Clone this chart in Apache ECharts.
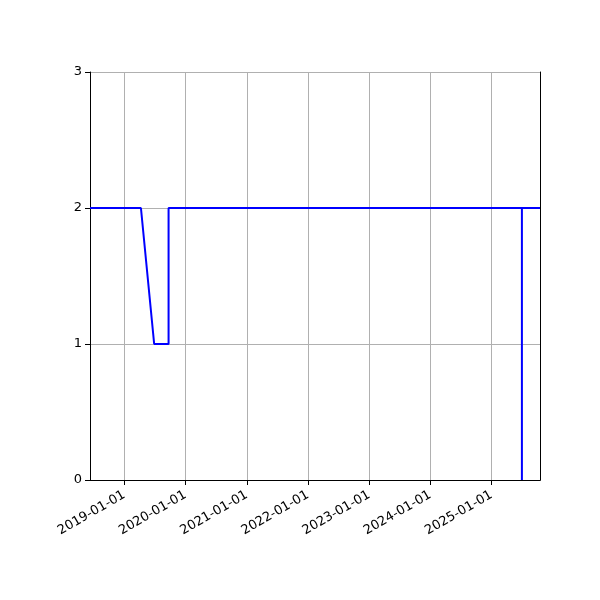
<!DOCTYPE html>
<html>
<head>
<meta charset="utf-8">
<script src="https://cdn.jsdelivr.net/npm/echarts@6/dist/echarts.min.js"></script>
<style>
    html, body { margin: 0; padding: 0; background: #fff; }
    #chart { width: 600px; height: 600px; }
</style>
</head>
<body>
<div id="chart"></div>
<script>
    // dates and values
    var dates = ['2018-06-10', '2019-04-10', '2019-06-28', '2019-09-22', '2019-09-22',
                 '2025-07-01', '2025-07-01', '2025-07-01', '2025-10-17'];
    var values = [2, 2, 1, 1, 2, 2, 0, 2, 2];
    var yTicks = [0, 1, 2, 3];

    var xMin = '2018-06-10', xMax = '2025-10-17';
    var YEAR = 365 * 24 * 3600 * 1000;

    var seriesData = [];
    for (var i = 0; i < dates.length; i++) {
        seriesData.push([dates[i], values[i]]);
    }

    var chart = echarts.init(document.getElementById('chart'));
    var option = {
        animation: false,
        textStyle: { fontFamily: 'DejaVu Sans' },
        grid: { left: 90, right: 60, top: 72, bottom: 120 },
        xAxis: [{
            type: 'time',
            min: xMin,
            max: xMax,
            minInterval: YEAR,
            maxInterval: YEAR * 1.01,
            axisLine: { lineStyle: { color: '#000' } },
            axisTick: { show: true, length: 5, lineStyle: { color: '#000' } },
            minorTick: { show: false },
            axisLabel: {
                rotate: 30,
                color: '#000',
                fontSize: 13,
                margin: 14,
                formatter: '{yyyy}-{MM}-{dd}',
                hideOverlap: false
            },
            splitLine: { show: true, lineStyle: { color: '#b0b0b0', width: 1 } }
        }, {
            // top frame line
            type: 'time', position: 'top', min: xMin, max: xMax,
            axisLine: { show: true, lineStyle: { color: '#000' } },
            axisTick: { show: false }, axisLabel: { show: false }, splitLine: { show: false }
        }],
        yAxis: [{
            type: 'value',
            min: yTicks[0],
            max: yTicks[yTicks.length - 1],
            interval: 1,
            axisLine: { show: true, lineStyle: { color: '#000' } },
            axisTick: { show: true, length: 5, lineStyle: { color: '#000' } },
            axisLabel: { color: '#000', fontSize: 13, margin: 8 },
            splitLine: { show: true, lineStyle: { color: '#b0b0b0', width: 1 } }
        }, {
            // right frame line
            type: 'value', position: 'right', min: yTicks[0], max: yTicks[yTicks.length - 1],
            axisLine: { show: true, lineStyle: { color: '#000' } },
            axisTick: { show: false }, axisLabel: { show: false }, splitLine: { show: false }
        }],
        series: [{
            type: 'line',
            data: seriesData,
            showSymbol: false,
            lineStyle: { color: '#0000ff', width: 2 },
            itemStyle: { color: '#0000ff' }
        }]
    };
    chart.setOption(option);
</script>
</body>
</html>
